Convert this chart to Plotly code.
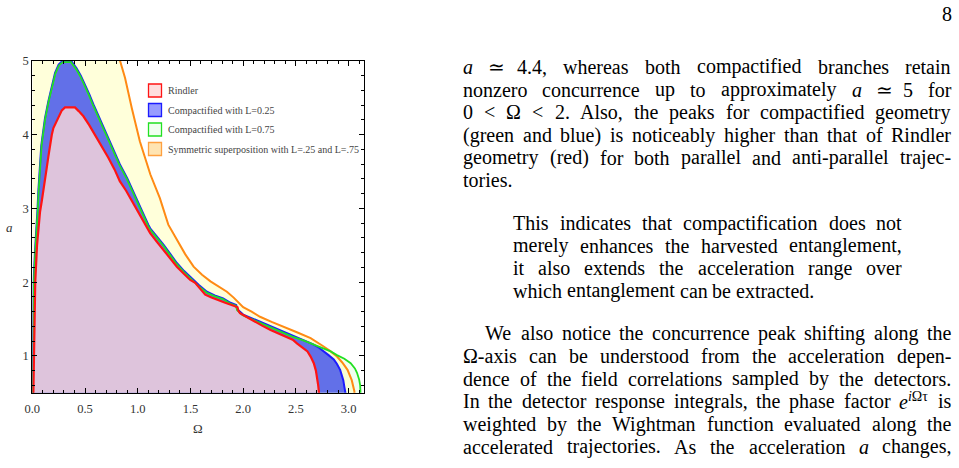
import re
import math
import plotly.graph_objects as go

# ---------------- data ----------------
# Rindler (red) region boundary: Omega, a
rindler_omega = [0.008, 0.010, 0.015, 0.020, 0.028, 0.045, 0.060, 0.073, 0.090, 0.105, 0.120, 0.137, 0.152,
                 0.168, 0.185, 0.200, 0.240, 0.280, 0.310, 0.405, 0.440, 0.485, 0.540, 0.595, 0.660, 0.720,
                 0.780, 0.830, 0.890, 0.944, 1.010, 1.070, 1.118, 1.180, 1.244, 1.310, 1.371, 1.440, 1.498,
                 1.545, 1.600, 1.640, 1.700, 1.750, 1.830, 1.910, 1.947, 1.955, 1.970, 2.030, 2.100, 2.180,
                 2.260, 2.340, 2.420, 2.470, 2.510, 2.560, 2.610, 2.640, 2.670, 2.690, 2.700, 2.712, 2.720, 2.722]
rindler_a = [0.30, 0.50, 1.00, 1.50, 2.00, 2.50, 2.80, 2.95, 3.10, 3.23, 3.40, 3.55, 3.70,
             3.87, 4.00, 4.09, 4.22, 4.33, 4.37, 4.37, 4.32, 4.25, 4.13, 4.00, 3.85, 3.69,
             3.53, 3.37, 3.24, 3.10, 2.94, 2.78, 2.665, 2.55, 2.44, 2.32, 2.21, 2.11, 2.03,
             1.99, 1.89, 1.83, 1.79, 1.76, 1.72, 1.68, 1.66, 1.61, 1.58, 1.53, 1.47, 1.41,
             1.35, 1.30, 1.26, 1.22, 1.17, 1.12, 1.06, 0.99, 0.90, 0.80, 0.72, 0.60, 0.49, 0.30]

# Compactified L=0.25 (blue)
l025_omega = [0.003, 0.004, 0.006, 0.008, 0.012, 0.025, 0.035, 0.042, 0.050, 0.057, 0.065, 0.073, 0.085,
              0.099, 0.120, 0.152, 0.194, 0.216, 0.250, 0.285, 0.370, 0.420, 0.460, 0.500, 0.540, 0.580,
              0.640, 0.710, 0.770, 0.830, 0.900, 0.960, 1.030, 1.100, 1.118, 1.180, 1.244, 1.310, 1.371,
              1.440, 1.510, 1.580, 1.656, 1.730, 1.810, 1.880, 1.934, 1.947, 2.000, 2.100, 2.190, 2.280,
              2.380, 2.470, 2.570, 2.660, 2.720, 2.760, 2.810, 2.860, 2.890, 2.920, 2.940, 2.950, 2.960,
              2.970, 2.970]
l025_a = [0.30, 0.50, 1.00, 1.50, 2.00, 2.40, 2.60, 2.78, 3.00, 3.23, 3.45, 3.69, 3.85,
          4.00, 4.22, 4.45, 4.68, 4.84, 4.95, 5.00, 5.00, 4.90, 4.80, 4.68, 4.55, 4.41,
          4.21, 4.00, 3.80, 3.60, 3.41, 3.23, 3.00, 2.78, 2.73, 2.62, 2.51, 2.38, 2.26,
          2.15, 2.05, 1.96, 1.87, 1.82, 1.78, 1.72, 1.69, 1.63, 1.56, 1.50, 1.44, 1.39,
          1.33, 1.27, 1.22, 1.16, 1.11, 1.06, 1.01, 0.95, 0.89, 0.81, 0.73, 0.67, 0.58,
          0.50, 0.30]

# Compactified L=0.75 (green)
l075_omega = [0.006, 0.007, 0.009, 0.011, 0.015, 0.028, 0.038, 0.045, 0.053, 0.060, 0.068, 0.076, 0.088,
              0.102, 0.123, 0.155, 0.197, 0.219, 0.253, 0.288, 0.367, 0.416, 0.456, 0.496, 0.536, 0.576,
              0.636, 0.706, 0.766, 0.826, 0.896, 0.956, 1.026, 1.096, 1.114, 1.176, 1.240, 1.306, 1.367,
              1.436, 1.506, 1.576, 1.652, 1.726, 1.806, 1.876, 1.930, 1.943, 1.996, 2.096, 2.186, 2.276,
              2.376, 2.466, 2.570, 2.670, 2.760, 2.830, 2.890, 2.960, 3.020, 3.060, 3.080, 3.100, 3.110,
              3.115, 3.120]
l075_a = [0.30, 0.50, 1.00, 1.50, 2.00, 2.40, 2.60, 2.78, 3.00, 3.23, 3.45, 3.69, 3.85,
          4.00, 4.22, 4.45, 4.68, 4.83, 4.94, 4.985, 4.985, 4.89, 4.79, 4.67, 4.54, 4.40,
          4.20, 3.99, 3.79, 3.59, 3.40, 3.22, 2.99, 2.77, 2.72, 2.61, 2.50, 2.37, 2.25,
          2.14, 2.04, 1.95, 1.86, 1.81, 1.77, 1.71, 1.68, 1.62, 1.55, 1.49, 1.43, 1.38,
          1.32, 1.26, 1.21, 1.15, 1.10, 1.06, 1.01, 0.96, 0.90, 0.83, 0.77, 0.68, 0.60,
          0.52, 0.30]

# Symmetric superposition (orange); the first two points are its left edge at the axis
sym_omega = [0.002, 0.002, 0.710, 0.833, 0.880, 0.944, 1.020, 1.120, 1.210, 1.290, 1.371, 1.450, 1.530,
             1.610, 1.690, 1.770, 1.846, 1.910, 1.970, 2.000, 2.080, 2.160, 2.270, 2.380, 2.510, 2.640,
             2.700, 2.760, 2.830, 2.890, 2.940, 2.990, 3.030, 3.045, 3.055, 3.060]
sym_a = [0.30, 5.60, 5.60, 5.00, 4.77, 4.36, 3.91, 3.46, 3.14, 2.78, 2.57, 2.38, 2.21,
         2.10, 2.01, 1.94, 1.87, 1.79, 1.71, 1.66, 1.60, 1.53, 1.46, 1.40, 1.32, 1.24,
         1.19, 1.13, 1.06, 0.99, 0.91, 0.81, 0.67, 0.58, 0.52, 0.30]

legend_labels = ["Rindler", "Compactified with L=0.25", "Compactified with L=0.75",
                 "Symmetric superposition with L=.25 and L=.75"]
x_tick_values = [0.0, 0.5, 1.0, 1.5, 2.0, 2.5, 3.0]
y_tick_values = [1, 2, 3, 4, 5]

para1 = ["<i>a</i> ≃ 4.4, whereas both compactified branches retain",
         "nonzero concurrence up to approximately <i>a</i> ≃ 5 for",
         "0 &lt; Ω &lt; 2. Also, the peaks for compactified geometry",
         "(green and blue) is noticeably higher than that of Rindler",
         "geometry (red) for both parallel and anti-parallel trajec-",
         "tories."]
quote = ["This indicates that compactification does not",
         "merely enhances the harvested entanglement,",
         "it also extends the acceleration range over",
         "which entanglement can be extracted."]
para2 = ["We also notice the concurrence peak shifting along the",
         "Ω-axis can be understood from the acceleration depen-",
         "dence of the field correlations sampled by the detectors.",
         "In the detector response integrals, the phase factor <i>e</i><sup><i>i</i>Ωτ</sup> is",
         "weighted by the Wightman function evaluated along the",
         "accelerated trajectories. As the acceleration <i>a</i> changes,"]

# ---------------- styling ----------------
W, H = 959, 468
SERIF = "Liberation Serif"
C_RED, C_BLUE, C_GREEN, C_ORANGE = "#ff1414", "#1c1cff", "#22e022", "#ff8a14"
F_GREEN = "rgb(240,255,240)"
F_ORANGE = "rgba(255,255,185,0.52)"
F_BLUE = "rgb(98,112,232)"
F_RED = "rgb(222,196,220)"


def px_x(v):
    return v / W


def px_y(v):
    return 1 - v / H


fig = go.Figure()


def fill(xs, ys, color):
    fig.add_trace(go.Scatter(x=xs, y=ys, mode="lines", fill="toself", fillcolor=color,
                             line=dict(width=0), hoverinfo="skip", showlegend=False))


def line(xs, ys, color, width):
    fig.add_trace(go.Scatter(x=xs, y=ys, mode="lines", line=dict(color=color, width=width),
                             hoverinfo="skip", showlegend=False))


fill(l075_omega, l075_a, F_GREEN)
fill(sym_omega, sym_a, F_ORANGE)
fill(l025_omega, l025_a, F_BLUE)
fill(rindler_omega, rindler_a, F_RED)
line(sym_omega[2:], sym_a[2:], C_ORANGE, 2)
line(l025_omega, l025_a, C_BLUE, 2)
line(l075_omega, l075_a, C_GREEN, 1.8)
line(rindler_omega, rindler_a, C_RED, 2.2)

axis_common = dict(showgrid=False, zeroline=False, showline=True, linecolor="black", linewidth=1,
                   mirror="allticks", ticks="inside", ticklen=4.5, tickwidth=1, tickcolor="black",
                   automargin=False,
                   tickfont=dict(family=SERIF, size=12.5, color="#333"))
fig.update_layout(
    width=W, height=H, margin=dict(l=0, r=0, t=0, b=0, pad=0, autoexpand=False),
    paper_bgcolor="white", plot_bgcolor="white", showlegend=False,
    xaxis=dict(domain=[px_x(32.3), px_x(363.5)], range=[0, math.pi], tickvals=x_tick_values,
               ticktext=[f"{v:.1f}" for v in x_tick_values], ticklabelstandoff=4,
               minor=dict(dtick=0.1, tick0=0, ticks="inside", ticklen=2.5, tickcolor="black"),
               **axis_common),
    yaxis=dict(domain=[px_y(392.7), px_y(61)], range=[0.5, 5], tickvals=y_tick_values,
               ticktext=[str(v) for v in y_tick_values],
               minor=dict(dtick=0.2, tick0=0, ticks="inside", ticklen=2.5, tickcolor="black"),
               **axis_common),
)

annotations = []
shapes = []


def ann(text, x, y, size, xanchor="left", color="black", yanchor="middle"):
    annotations.append(dict(text=text, x=px_x(x), y=px_y(y), xref="paper", yref="paper",
                            xanchor=xanchor, yanchor=yanchor, showarrow=False, borderpad=0,
                            borderwidth=0, font=dict(family=SERIF, size=size, color=color)))


# axis titles
ann("Ω", 198, 428, 13, xanchor="center", color="#333")
ann("<i>a</i>", 9, 227, 13, xanchor="center", color="#333")

# legend
sw_fill = ["rgb(255,222,222)", "rgb(152,156,255)", "rgb(242,255,242)", "rgb(255,228,178)"]
sw_line = [C_RED, C_BLUE, C_GREEN, "#ffa040"]
for i, lab in enumerate(legend_labels):
    top = 84 + 19.5 * i
    shapes.append(dict(type="rect", xref="paper", yref="paper", x0=px_x(148.5), x1=px_x(161.5),
                       y0=px_y(top + 13), y1=px_y(top), fillcolor=sw_fill[i],
                       line=dict(color=sw_line[i], width=1.3)))
    ann(lab, 168, top + 6.5, 10, color="#444")

# ---------------- page text (justified lines) ----------------
TW = {}
for ch, w in zip("abcdefghijklmnopqrstuvwxyz",
                 [444, 500, 444, 500, 444, 333, 500, 500, 278, 278, 500, 278, 778, 500, 500, 500, 500,
                  333, 389, 278, 500, 500, 722, 500, 500, 444]):
    TW[ch] = w
for ch, w in zip("ABCDEFGHIJKLMNOPQRSTUVWXYZ",
                 [722, 667, 667, 722, 611, 556, 722, 722, 333, 389, 722, 611, 889, 722, 722, 556, 722,
                  667, 556, 611, 722, 722, 944, 722, 722, 611]):
    TW[ch] = w
TW.update({" ": 250, ",": 250, ".": 250, "-": 333, "(": 333, ")": 333, "<": 564, "≃": 600,
           "Ω": 768, "τ": 440, "=": 564})
for d in "0123456789":
    TW[d] = 500


def word_width(word, size):
    w = 0.0
    parts = re.split(r"(<sup>.*?</sup>)", word)
    for p in parts:
        scale = 1.0
        if p.startswith("<sup>"):
            scale = 0.7
        plain = re.sub(r"<[^>]+>", "", p).replace("&lt;", "<")
        for ch in plain:
            w += TW.get(ch, 500) * scale
    return w * size / 1000.0


BODY = 20


def text_line(s, left, right, y, justify=True):
    words = s.split(" ")
    widths = [word_width(wd, BODY) for wd in words]
    if justify and len(words) > 1:
        gap = (right - left - sum(widths)) / (len(words) - 1)
    else:
        gap = 0.25 * BODY
    x = left
    for wd, w in zip(words, widths):
        ann(wd, x, y, BODY)
        x += w + gap


p1_y = [67, 89.7, 112.4, 135.1, 157.8, 180.5]
for i, s in enumerate(para1):
    text_line(s, 463, 951, p1_y[i], justify=(i < len(para1) - 1))
q_y = [223, 245.5, 268, 290.5]
for i, s in enumerate(quote):
    text_line(s, 513, 902, q_y[i], justify=(i < len(quote) - 1))
p2_y = [333, 356, 378.5, 401, 424, 446.5]
for i, s in enumerate(para2):
    text_line(s, 485 if i == 0 else 463, 951, p2_y[i], justify=True)

ann("8", 952, 14, BODY, xanchor="right")

fig.update_layout(annotations=annotations, shapes=shapes)
fig.write_html("out.html", config={"displayModeBar": False},
               post_script="document.body.style.margin='0px';document.body.style.padding='0px';")
